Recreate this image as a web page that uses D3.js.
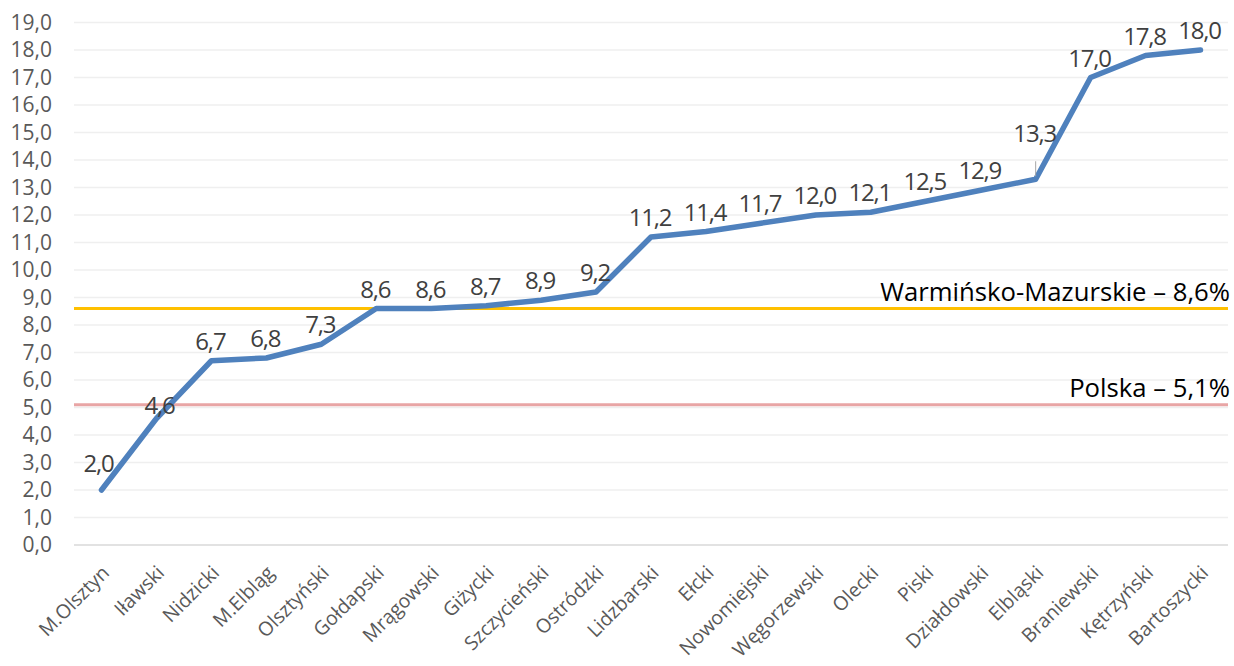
<!DOCTYPE html>
<html>
<head>
<meta charset="utf-8">
<script src="https://cdn.jsdelivr.net/npm/d3@7"></script>
<style>
  body { margin: 0; background: #fff; }
  svg { display: block; }
</style>
</head>
<body>
<svg id="chart" width="1234" height="666"></svg>
<script>
const powiaty = ["M.Olsztyn", "Iławski", "Nidzicki", "M.Elbląg", "Olsztyński", "Gołdapski", "Mrągowski", "Giżycki", "Szczycieński", "Ostródzki", "Lidzbarski", "Ełcki", "Nowomiejski", "Węgorzewski", "Olecki", "Piski", "Działdowski", "Elbląski", "Braniewski", "Kętrzyński", "Bartoszycki"];
const values = [2.0, 4.6, 6.7, 6.8, 7.3, 8.6, 8.6, 8.7, 8.9, 9.2, 11.2, 11.4, 11.7, 12.0, 12.1, 12.5, 12.9, 13.3, 17.0, 17.8, 18.0];
const refNames = ["Warmińsko-Mazurskie – 8,6%", "Polska – 5,1%"];
const refValues = [8.6, 5.1];
const refColors = ["#FFC000", "#E8A5A5"];
const yTicks = d3.range(0, 20, 1);

const fmt = v => v.toFixed(1).replace(".", ",");

const svg = d3.select("#chart");
const mLeft = 74, mRight = 1228, mTop = 22.5, mBottom = 545;

const x = d3.scaleBand().domain(powiaty).range([mLeft, mRight]);
const y = d3.scaleLinear().domain([0, 19]).range([mBottom, mTop]);

// gridlines
svg.append("g")
  .selectAll("line")
  .data(yTicks.filter(d => d > 0))
  .join("line")
  .attr("x1", mLeft).attr("x2", mRight)
  .attr("y1", d => y(d)).attr("y2", d => y(d))
  .attr("stroke", "#efefef").attr("stroke-width", 1.3);

// y axis labels
const yAxis = svg.append("g")
  .attr("transform", `translate(${mLeft},0)`)
  .call(d3.axisLeft(y).tickValues(yTicks).tickFormat(fmt).tickSize(0).tickPadding(22));
yAxis.select(".domain").remove();
yAxis.selectAll("text")
  .attr("font-family", "'Open Sans', sans-serif")
  .attr("font-size", 21)
  .attr("fill", "#595959");

// x axis
svg.append("line")
  .attr("x1", mLeft).attr("x2", mRight)
  .attr("y1", mBottom).attr("y2", mBottom)
  .attr("stroke", "#d9d9d9").attr("stroke-width", 1.5);

const xAxis = svg.append("g")
  .attr("transform", `translate(0,${mBottom})`)
  .call(d3.axisBottom(x).tickSize(0).tickPadding(0));
xAxis.select(".domain").remove();
xAxis.selectAll("text")
  .attr("font-family", "'Open Sans', sans-serif")
  .attr("font-size", 19.5)
  .attr("fill", "#595959")
  .attr("text-anchor", "end")
  .attr("dy", 0)
  .attr("transform", "translate(9,29) rotate(-45)");

// reference lines
refValues.forEach((v, i) => {
  svg.append("line")
    .attr("x1", mLeft).attr("x2", mRight)
    .attr("y1", y(v)).attr("y2", y(v))
    .attr("stroke", refColors[i]).attr("stroke-width", 3.2);
  svg.append("text")
    .attr("x", 1230).attr("y", y(v) - 8)
    .attr("text-anchor", "end")
    .attr("font-family", "'Open Sans', sans-serif")
    .attr("font-size", 25.7)
    .attr("fill", "#000")
    .text(refNames[i]);
});

// series line
const line = d3.line()
  .x((d, i) => x(powiaty[i]) + x.bandwidth() / 2)
  .y(d => y(d));

svg.append("path")
  .datum(values)
  .attr("d", line)
  .attr("fill", "none")
  .attr("stroke", "#4F81BD")
  .attr("stroke-width", 5.5)
  .attr("stroke-linejoin", "round")
  .attr("stroke-linecap", "round");

// data labels; a few were moved by hand in the original (Elbląski gets a leader line)
const liftFor = { 0: 18, 1: 5, 17: 37 };
const shiftFor = { 0: -2, 1: 4 };
const labels = svg.append("g");
values.forEach((v, i) => {
  const cx = x(powiaty[i]) + x.bandwidth() / 2;
  const lift = liftFor[i] !== undefined ? liftFor[i] : 11;
  const shift = shiftFor[i] !== undefined ? shiftFor[i] : 0;
  if (i === 17) {
    labels.append("line")
      .attr("x1", cx).attr("x2", cx)
      .attr("y1", y(v) - 3).attr("y2", y(v) - 18)
      .attr("stroke", "#a6a6a6").attr("stroke-width", 1);
  }
  labels.append("text")
    .attr("x", cx - 1 + shift)
    .attr("y", y(v) - lift)
    .attr("text-anchor", "middle")
    .attr("font-family", "'Open Sans', sans-serif")
    .attr("font-size", 24)
    .attr("letter-spacing", -1.2)
    .attr("fill", "#404040")
    .text(fmt(v));
});
</script>
</body>
</html>
